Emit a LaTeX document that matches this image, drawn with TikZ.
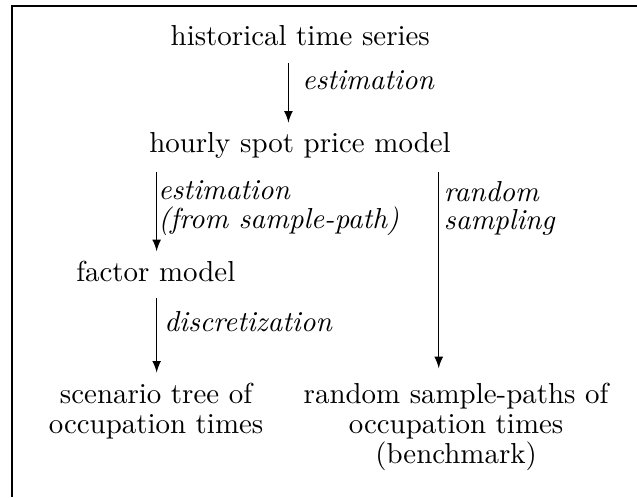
\documentclass[tikz,border=0pt]{standalone}
\usetikzlibrary{arrows}
\begin{document}
\begin{tikzpicture}[x=1pt,y=1pt,
  box/.style={anchor=base,inner sep=3.33pt,align=center,font=\fontsize{10}{10.4}\selectfont},
  lbl/.style={anchor=base west,inner sep=0pt,align=left,font=\fontsize{10}{9.8}\selectfont\itshape},
  arr/.style={->,>=latex,line width=0.4pt}]
\useasboundingbox (0,0) rectangle (220.4,-172);
\coordinate (tl) at (4.15,-2.08);
\coordinate (tr) at (220.4,-2.08);
\coordinate (bl) at (4.15,-172);
\draw[line width=0.4pt] (tr) -- (tl) -- (bl);
\node[box] (hist) at (103.9,-15.6) {historical time series};
\node[box] (hourly) at (103.8,-52.9) {hourly spot price model};
\node[box] (factor) at (53.9,-97.5) {factor model};
\node[box] (scen) at (54.0,-149.9) {scenario tree of\\occupation times};
\node[box] (rand) at (157.8,-160.3) {random sample-paths of\\occupation times\\(benchmark)};
\coordinate (c1) at (99.8,0);
\coordinate (c2) at (54.2,0);
\coordinate (c3) at (151.8,0);
\draw[arr,shorten <=2.5pt] (hist.south -| c1) -- (hourly.north -| c1);
\draw[arr,shorten <=1pt] (hourly.south -| c2) -- (factor.north -| c2);
\draw[arr,shorten <=2pt] (factor.south -| c2) -- (scen.north -| c2);
\draw[arr,shorten <=1pt,shorten >=1.5pt] (hourly.south -| c3) -- (rand.north -| c3);
\node[lbl] (l1) at (104.4,-31.1) {estimation};
\node[lbl] (l2) at (54.6,-78.9) {estimation\\(from sample-path)};
\node[lbl] (l3) at (153.4,-79.5) {random\\sampling};
\node[lbl] (l4) at (56.7,-114.8) {discretization};
\end{tikzpicture}
\end{document}
